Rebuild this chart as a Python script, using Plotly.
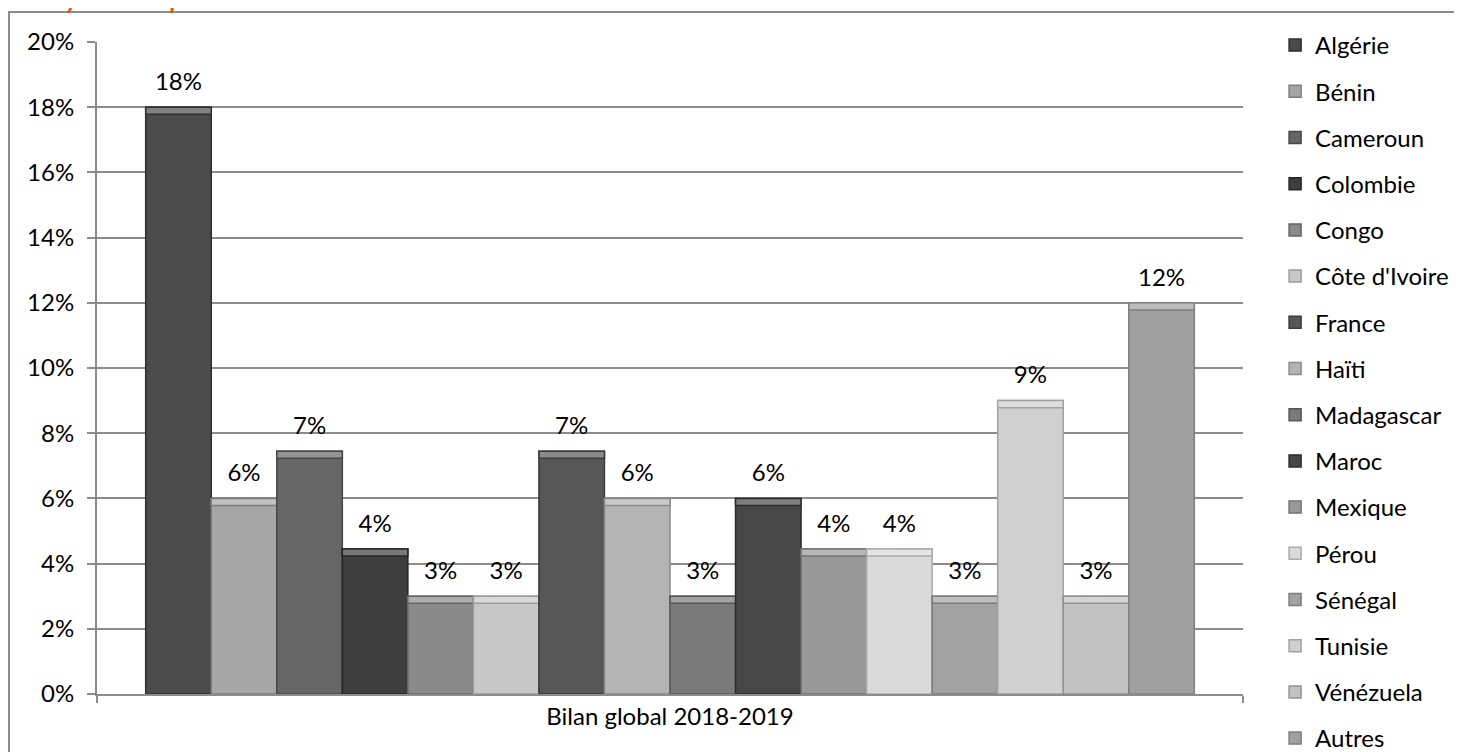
import plotly.graph_objects as go

category = ["Bilan global 2018-2019"]
countries = ["Algérie", "Bénin", "Cameroun", "Colombie", "Congo", "Côte d'Ivoire",
             "France", "Haïti", "Madagascar", "Maroc", "Mexique", "Pérou",
             "Sénégal", "Tunisie", "Vénézuela", "Autres"]
shares = [0.18, 0.06, 0.0745, 0.0445, 0.03, 0.03, 0.0745, 0.06, 0.03, 0.06,
          0.0445, 0.0445, 0.03, 0.09, 0.03, 0.12]
colors = ["#4b4b4b", "#a6a6a6", "#666666", "#3e3e3e", "#8a8a8a", "#c8c8c8",
          "#575757", "#b4b4b4", "#7a7a7a", "#474747", "#999999", "#dadada",
          "#a2a2a2", "#d0d0d0", "#c2c2c2", "#a0a0a0"]
edges = ["#2e2e2e", "#7e7e7e", "#474747", "#262626", "#666666", "#9c9c9c",
         "#3a3a3a", "#8a8a8a", "#575757", "#2c2c2c", "#727272", "#aaaaaa",
         "#7c7c7c", "#a2a2a2", "#939393", "#7e7e7e"]
LABEL_PAD = 0.0028   # space (axis units) between bar top and its value label
BEVEL = 0.0022       # height (axis units) of the light bevel strip on bar tops


def lighten(hex_color, f):
    r, g, b = (int(hex_color[k:k + 2], 16) for k in (1, 3, 5))
    r, g, b = (round(x + (255 - x) * f) for x in (r, g, b))
    return f"#{r:02x}{g:02x}{b:02x}"


FONT = "Lato"
FS = 24
fig = go.Figure()
for i, (name, v, c, e) in enumerate(zip(countries, shares, colors, edges)):
    fig.add_trace(go.Bar(
        x=category, y=[v], name=name, legendgroup=name, offsetgroup=str(i),
        marker=dict(color=c, line=dict(color=e, width=1.5)),
        hovertemplate=name + ": %{y:.1%}<extra></extra>",
    ))
    # light bevel strip along the top of the bar
    fig.add_trace(go.Bar(
        x=category, y=[BEVEL], base=[v - BEVEL], name=name, legendgroup=name,
        offsetgroup=str(i), showlegend=False, hoverinfo="skip",
        marker=dict(color=lighten(c, 0.3), line=dict(color=e, width=1.5)),
    ))
    # transparent spacer carrying the value label slightly above the bar
    fig.add_trace(go.Bar(
        x=category, y=[LABEL_PAD], base=[v], name=name, legendgroup=name,
        offsetgroup=str(i), showlegend=False, hoverinfo="skip",
        marker=dict(color="rgba(0,0,0,0)", line=dict(width=0)),
        text=[v], texttemplate="%{text:.0%}", textposition="outside",
        textfont=dict(size=FS, color="#000000", family=FONT),
        cliponaxis=False,
    ))

fig.update_layout(
    width=1454, height=744,
    paper_bgcolor="white", plot_bgcolor="white",
    barmode="group", bargap=0.085, bargroupgap=0,
    margin=dict(l=89, r=219, t=34, b=58, autoexpand=False),
    font=dict(family=FONT, size=FS, color="#000000"),
    showlegend=True,
    legend=dict(x=1.028, xanchor="left", y=1 + (42 - 23) / 652, yanchor="top",
                tracegroupgap=12, font=dict(size=FS, family=FONT),
                itemclick=False, bgcolor="rgba(0,0,0,0)", maxheight=1.0),
    xaxis=dict(showline=True, linecolor="#8c8c8c", linewidth=2,
               ticks="outside", tickson="boundaries", ticklen=7,
               tickcolor="#8c8c8c", tickwidth=2, showgrid=False,
               tickfont=dict(size=FS, family=FONT)),
    yaxis=dict(range=[0, 0.2], dtick=0.02, tickformat=".0%",
               showline=True, linecolor="#8c8c8c", linewidth=2,
               ticks="outside", ticklen=8, tickcolor="#8c8c8c", tickwidth=2,
               showgrid=True, gridcolor="#8c8c8c", gridwidth=2,
               zeroline=False, tickfont=dict(size=FS, family=FONT),
               ticklabelstandoff=8),
)

# outer chart border (partially off-page, as in the reference)
fig.add_shape(type="rect", xref="paper", yref="paper",
              x0=(9 - 97) / 1146, x1=1.3, y0=-0.2, y1=(694 - 12) / 652,
              line=dict(color="#8c8c8c", width=2), fillcolor="rgba(0,0,0,0)",
              layer="below")

# cropped orange heading above the chart frame
fig.add_annotation(text="Analyse du public", xref="paper", yref="paper",
                   x=(-6 - 97) / 1146, xanchor="left",
                   y=1 + (42 - 16) / 652, yanchor="bottom", showarrow=False,
                   font=dict(size=34, color="#E8541E", family=FONT))

fig.write_html("out.html")
